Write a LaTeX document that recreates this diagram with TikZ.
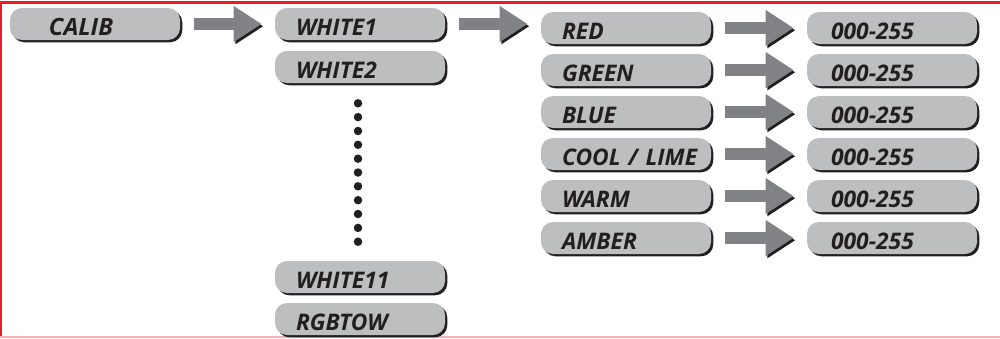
\documentclass[tikz,border=0pt]{standalone}
\usepackage{fontspec}
\setmainfont{Open Sans}
\usepackage{tikz}
\usetikzlibrary{positioning}
\usetikzlibrary{arrows.meta}
\usetikzlibrary{shadows}
\usepackage{xcolor}

\definecolor{boxgray}{RGB}{188,190,192}
\definecolor{arrowgray}{RGB}{128,130,133}
\definecolor{shadowgray}{RGB}{35,31,32}
\definecolor{framered}{RGB}{237,28,36}

\begin{document}
\begin{tikzpicture}[x=0.2mm, y=-0.2mm,
  menubox/.style={fill=boxgray, rounded corners=0.24cm, minimum width=3.4cm, minimum height=0.64cm,
    text width=2.9cm, inner xsep=0.25cm, inner ysep=0.05cm, text height=0.44cm, text depth=0cm,
    align=left, text=shadowgray,
    font=\bfseries\itshape\fontsize{13}{15}\selectfont,
    execute at begin node={\hspace*{0.17cm}},
    drop shadow={fill=shadowgray, opacity=1, shadow xshift=0.45mm, shadow yshift=-0.45mm}},
  bigarrow/.style={draw=arrowgray, line width=0.24cm, -{Triangle[length=0.56cm, width=0.68cm]},
    shorten <=0.27cm, shorten >=0.26cm,
    preaction={draw=shadowgray, transform canvas={shift={(0.35mm,-0.45mm)}}}}]

\useasboundingbox (0,0) rectangle (1000,338);

% frame
\draw[framered, line width=0.55mm] (1,338) -- (1,2.5) -- (1000,2.5);
\draw[framered!35, line width=0.4mm] (0,337) -- (1000,337);

% first column
\node[menubox, font=\bfseries\itshape\fontsize{13.5}{15}\selectfont] (calib) at (95,24) {\hspace*{0.36cm}CALIB};

% second column
\node[menubox] (white1) at (360,24) {WHITE1};
\node[menubox] (white2) at (360,67) {WHITE2};
\node[menubox] (white11) at (360,277) {WHITE11};
\node[menubox] (rgbtow) at (360,319) {RGBTOW};

% dots
\fill[shadowgray] (358,103.3) circle [radius=0.085cm];
\fill[shadowgray] (358,117.1) circle [radius=0.085cm];
\fill[shadowgray] (358,131.0) circle [radius=0.085cm];
\fill[shadowgray] (358,144.8) circle [radius=0.085cm];
\fill[shadowgray] (358,158.7) circle [radius=0.085cm];
\fill[shadowgray] (358,172.5) circle [radius=0.085cm];
\fill[shadowgray] (358,186.3) circle [radius=0.085cm];
\fill[shadowgray] (358,200.2) circle [radius=0.085cm];
\fill[shadowgray] (358,214.0) circle [radius=0.085cm];
\fill[shadowgray] (358,227.9) circle [radius=0.085cm];
\fill[shadowgray] (358,241.7) circle [radius=0.085cm];

% colours
\node[menubox] (red) at (626,28) {RED};
\node[menubox] (green) at (626,70) {GREEN};
\node[menubox] (blue) at (626,112) {BLUE};
\node[menubox] (cool) at (626,154) {COOL / LIME};
\node[menubox] (warm) at (626,196) {WARM};
\node[menubox] (amber) at (626,238) {AMBER};

% values
\node[menubox] (valred) at (892,28) {\hspace*{0.06cm}000-255};
\node[menubox] (valgreen) at (892,70) {\hspace*{0.06cm}000-255};
\node[menubox] (valblue) at (892,112) {\hspace*{0.06cm}000-255};
\node[menubox] (valcool) at (892,154) {\hspace*{0.06cm}000-255};
\node[menubox] (valwarm) at (892,196) {\hspace*{0.06cm}000-255};
\node[menubox] (valamber) at (892,238) {\hspace*{0.06cm}000-255};

% arrows
\draw[bigarrow] (calib) -- (white1);
\draw[bigarrow] (white1.east) -- (white1.east -| red.west);
\draw[bigarrow] (red) -- (valred);
\draw[bigarrow] (green) -- (valgreen);
\draw[bigarrow] (blue) -- (valblue);
\draw[bigarrow] (cool) -- (valcool);
\draw[bigarrow] (warm) -- (valwarm);
\draw[bigarrow] (amber) -- (valamber);

\end{tikzpicture}
\end{document}
